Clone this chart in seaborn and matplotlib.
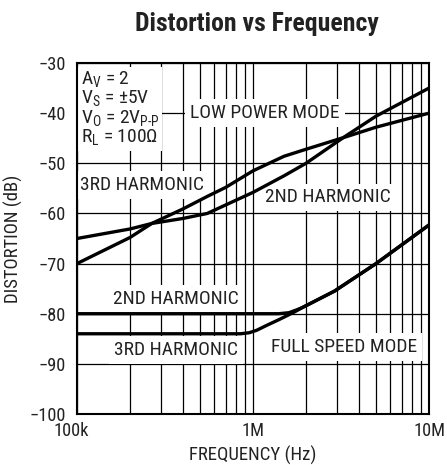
import numpy as np
import pandas as pd
import matplotlib
matplotlib.use("Agg")
import matplotlib.pyplot as plt
import matplotlib.transforms as mtrans
import seaborn as sns
from matplotlib import font_manager as fm

# ---- data ----
lp_freq = [1e5, 2e5, 2.66e5, 4e5, 5.5e5, 7e5, 1e6, 1.5e6, 2e6, 3.25e6, 5e6, 1e7]
lp_3rd = [-70, -64.8, -62, -59.1, -56.6, -54.8, -51.5, -48.6, -47.2, -44.9, -42.8, -40]
lp_2nd = [-65, -63.1, -62, -61, -60, -58.3, -55.8, -52.5, -50, -44.9, -40.6, -35]

fs_freq = [1e5, 5e5, 8.5e5, 9.5e5, 1.05e6, 1.2e6, 1.4e6, 1.6e6, 1.75e6, 1.9e6, 2.9e6, 5e6, 1e7]
fs_2nd = [-80, -80, -80, -80, -80, -80, -80, -79.8, -79.3, -78.8, -75.5, -70, -62.3]
fs_3rd = [-84, -84, -84, -83.8, -83.3, -82.3, -81.2, -80.2, -79.5, -78.8, -75.5, -70, -62.3]

x_ticks = [1e5, 1e6, 1e7]
x_tick_labels = ["100k", "1M", "10M"]
y_ticks = [-30, -40, -50, -60, -70, -80, -90, -100]

sns.set_theme(style="white")
names = {f.name for f in fm.fontManager.ttflist}
cands = [n for n in ["Liberation Sans Narrow", "Roboto Condensed", "Open Sans Condensed",
                     "DejaVu Sans Condensed", "Liberation Sans"] if n in names]
MAIN = cands[0] if cands else "DejaVu Sans"
plt.rcParams["font.family"] = [MAIN, "DejaVu Sans"]
plt.rcParams["mathtext.fontset"] = "custom"
plt.rcParams["mathtext.rm"] = MAIN
plt.rcParams["axes.unicode_minus"] = True

fig = plt.figure(figsize=(4.47, 4.65), dpi=100)
ax = fig.add_axes([0.1723, 0.1097, 0.7875, 0.7548])

frames = []
for name, xs, ys in [("lp3", lp_freq, lp_3rd), ("lp2", lp_freq, lp_2nd),
                     ("fs2", fs_freq, fs_2nd), ("fs3", fs_freq, fs_3rd)]:
    frames.append(pd.DataFrame({"freq": xs, "dist": ys, "series": name}))
df = pd.concat(frames, ignore_index=True)

for name in ["lp3", "lp2", "fs2", "fs3"]:
    sns.lineplot(data=df[df.series == name], x="freq", y="dist", ax=ax,
                 color="black", linewidth=2.4, sort=False, zorder=3,
                 estimator=None, legend=False)

ax.set_xscale("log")
ax.set_xlim(1e5, 1e7)
ax.set_ylim(-100, -30)
ax.set_xticks(x_ticks)
ax.set_xticklabels(x_tick_labels)
ax.set_yticks(y_ticks)
ax.set_yticklabels([("\u2212%d" % abs(v)) for v in y_ticks])

minor = [m * 10 ** e for e in (5, 6) for m in range(2, 10)]
ax.set_xticks(minor, minor=True)
ax.xaxis.set_minor_formatter(matplotlib.ticker.NullFormatter())
ax.grid(True, which="both", axis="x", color="black", linewidth=0.9, zorder=1)
ax.grid(True, which="major", axis="y", color="black", linewidth=0.9, zorder=1)
ax.tick_params(axis="both", which="both", length=0, labelsize=13.2, colors="#222222")
ax.tick_params(axis="x", pad=6)
ax.tick_params(axis="y", pad=8)
for s in ax.spines.values():
    s.set_color("black")
    s.set_linewidth(1.5)

# first x tick label sits slightly left in the reference
lbl0 = ax.get_xticklabels()[0]
lbl0.set_transform(lbl0.get_transform() + mtrans.ScaledTranslation(-6 / 100, 0, fig.dpi_scale_trans))

ax.set_xlabel("FREQUENCY (Hz)", fontsize=13.5, color="#222222", labelpad=4)
ax.set_ylabel("DISTORTION (dB)", fontsize=13.5, color="#222222", labelpad=5)
fig.suptitle("Distortion vs Frequency", x=0.574, y=0.975, fontsize=18.5,
             fontweight="bold", color="#222222")

box = dict(facecolor="white", edgecolor="none", pad=3.5)
tkw = dict(fontsize=14, color="#222222", zorder=2, bbox=box)

ax.text(1.05e5, -31.3, "A$_\\mathregular{V}$ = 2\nV$_\\mathregular{S}$ = \u00b15V\n"
        "V$_\\mathregular{O}$ = 2V$_\\mathregular{P\u2010P}$\nR$_\\mathregular{L}$ = 100\u03a9",
        ha="left", va="top", linespacing=0.95,
        **{**tkw, "bbox": dict(facecolor="white", edgecolor="none", pad=2)})
ax.text(1.17e6, -40, "LOW POWER MODE", ha="center", va="center", **tkw)
ax.text(1.04e5, -54.3, "3RD HARMONIC", ha="left", va="center", **tkw)
ax.text(2.65e6, -56.8, "2ND HARMONIC", ha="center", va="center", **tkw)
ax.text(3.65e5, -77.0, "2ND HARMONIC", ha="center", va="center", **tkw)
ax.text(3.65e5, -87.2, "3RD HARMONIC", ha="center", va="center", **tkw)
ax.text(3.3e6, -86.6, "FULL SPEED MODE", ha="center", va="center", **tkw)

fig.savefig("out.png", dpi=100, facecolor="white")
